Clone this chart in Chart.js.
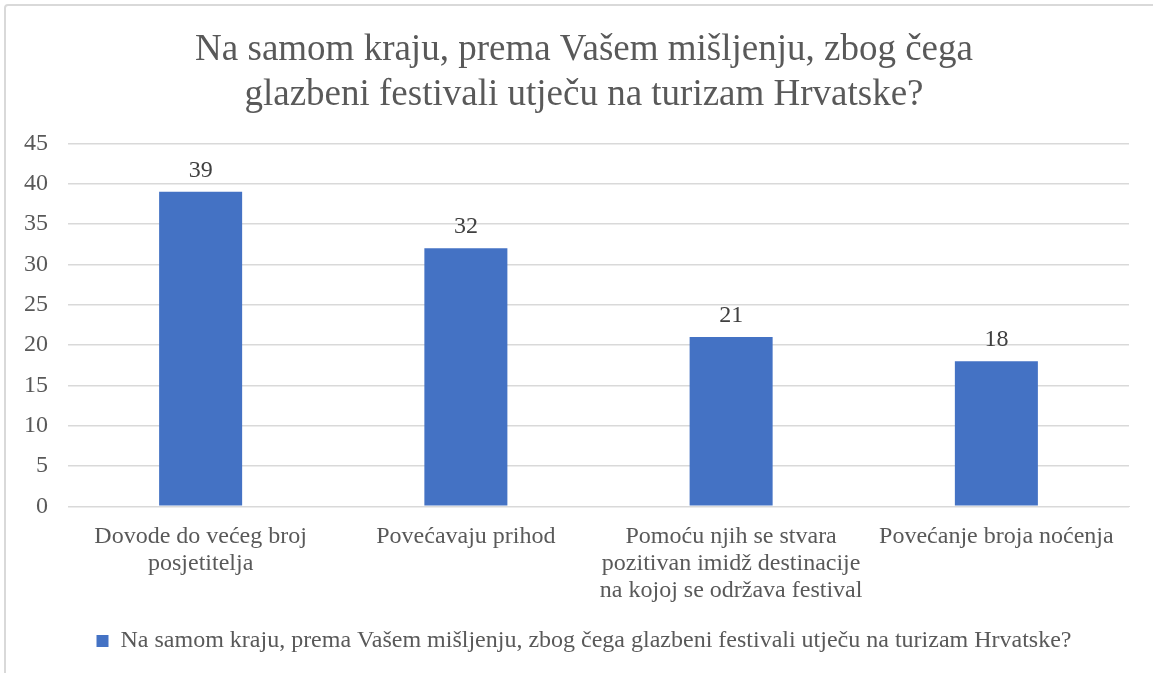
<!DOCTYPE html>
<html>
<head>
<meta charset="utf-8">
<script src="https://cdn.jsdelivr.net/npm/chart.js@4"></script>
<style>
  body { margin: 0; background: #fff; }
  #wrap { position: relative; width: 1153px; height: 673px; overflow: hidden; }
  #frame { position: absolute; left: 4px; top: 4px; width: 1170px; height: 690px;
           border: 2px solid #d9d9d9; border-radius: 4px; pointer-events: none; }
  canvas { position: absolute; left: 0; top: 0; }
</style>
</head>
<body>
<div id="wrap">
  <canvas id="festChart" width="1188" height="673"></canvas>
  <div id="frame"></div>
</div>
<script>
const categories = [
  ['Dovode do većeg broj', 'posjetitelja'],
  'Povećavaju prihod',
  ['Pomoću njih se stvara', 'pozitivan imidž destinacije', 'na kojoj se održava festival'],
  'Povećanje broja noćenja'
];
const values = [39, 32, 21, 18];
const seriesName = 'Na samom kraju, prema Vašem mišljenju, zbog čega glazbeni festivali utječu na turizam Hrvatske?';
const titleLines = ['Na samom kraju, prema Vašem mišljenju, zbog čega', 'glazbeni festivali utječu na turizam Hrvatske?'];

const serif = "'Liberation Serif', 'Times New Roman', serif";

// draws the value above each bar
const barLabels = {
  id: 'barLabels',
  afterDatasetsDraw(chart) {
    const ctx = chart.ctx;
    const meta = chart.getDatasetMeta(0);
    ctx.save();
    ctx.font = '24px ' + serif;
    ctx.fillStyle = '#404040';
    ctx.textAlign = 'center';
    ctx.textBaseline = 'bottom';
    meta.data.forEach((bar, i) => {
      ctx.fillText(values[i], bar.x, bar.y - 9);
    });
    ctx.restore();
  }
};

new Chart(document.getElementById('festChart'), {
  type: 'bar',
  data: {
    labels: categories,
    datasets: [{
      label: seriesName,
      data: values,
      backgroundColor: '#4472c4',
      categoryPercentage: 1,
      barPercentage: 0.313
    }]
  },
  options: {
    responsive: false,
    animation: false,
    layout: { padding: { left: 4, right: 24, top: 8, bottom: 10 } },
    plugins: {
      title: {
        display: true,
        text: titleLines,
        color: '#595959',
        font: { family: serif, size: 37, weight: 'normal', lineHeight: 1.22 },
        padding: { top: 20, bottom: 25 }
      },
      legend: {
        position: 'bottom',
        labels: {
          color: '#595959',
          font: { family: serif, size: 24 },
          boxWidth: 12,
          boxHeight: 12,
          padding: 10
        }
      },
      tooltip: { enabled: false }
    },
    scales: {
      x: {
        grid: { display: false },
        border: { display: true, color: '#d9d9d9' },
        ticks: {
          color: '#595959',
          font: { family: serif, size: 24, lineHeight: 1.12 },
          maxRotation: 0,
          autoSkip: false,
          padding: 9
        },
        afterFit(scale) { scale.height += 6; }
      },
      y: {
        min: 0,
        max: 45,
        grid: { color: '#d9d9d9', lineWidth: 1.5, drawTicks: false },
        border: { display: false },
        ticks: {
          stepSize: 5,
          color: '#595959',
          font: { family: serif, size: 24 },
          padding: 20
        }
      },
      // empty right-hand spacer so the plot ends where the original does
      ySpace: {
        position: 'right',
        min: 0,
        max: 45,
        grid: { display: false },
        border: { display: false },
        ticks: { display: false },
        afterFit(scale) { scale.width = 35; }
      }
    }
  },
  plugins: [barLabels]
});
</script>
</body>
</html>
